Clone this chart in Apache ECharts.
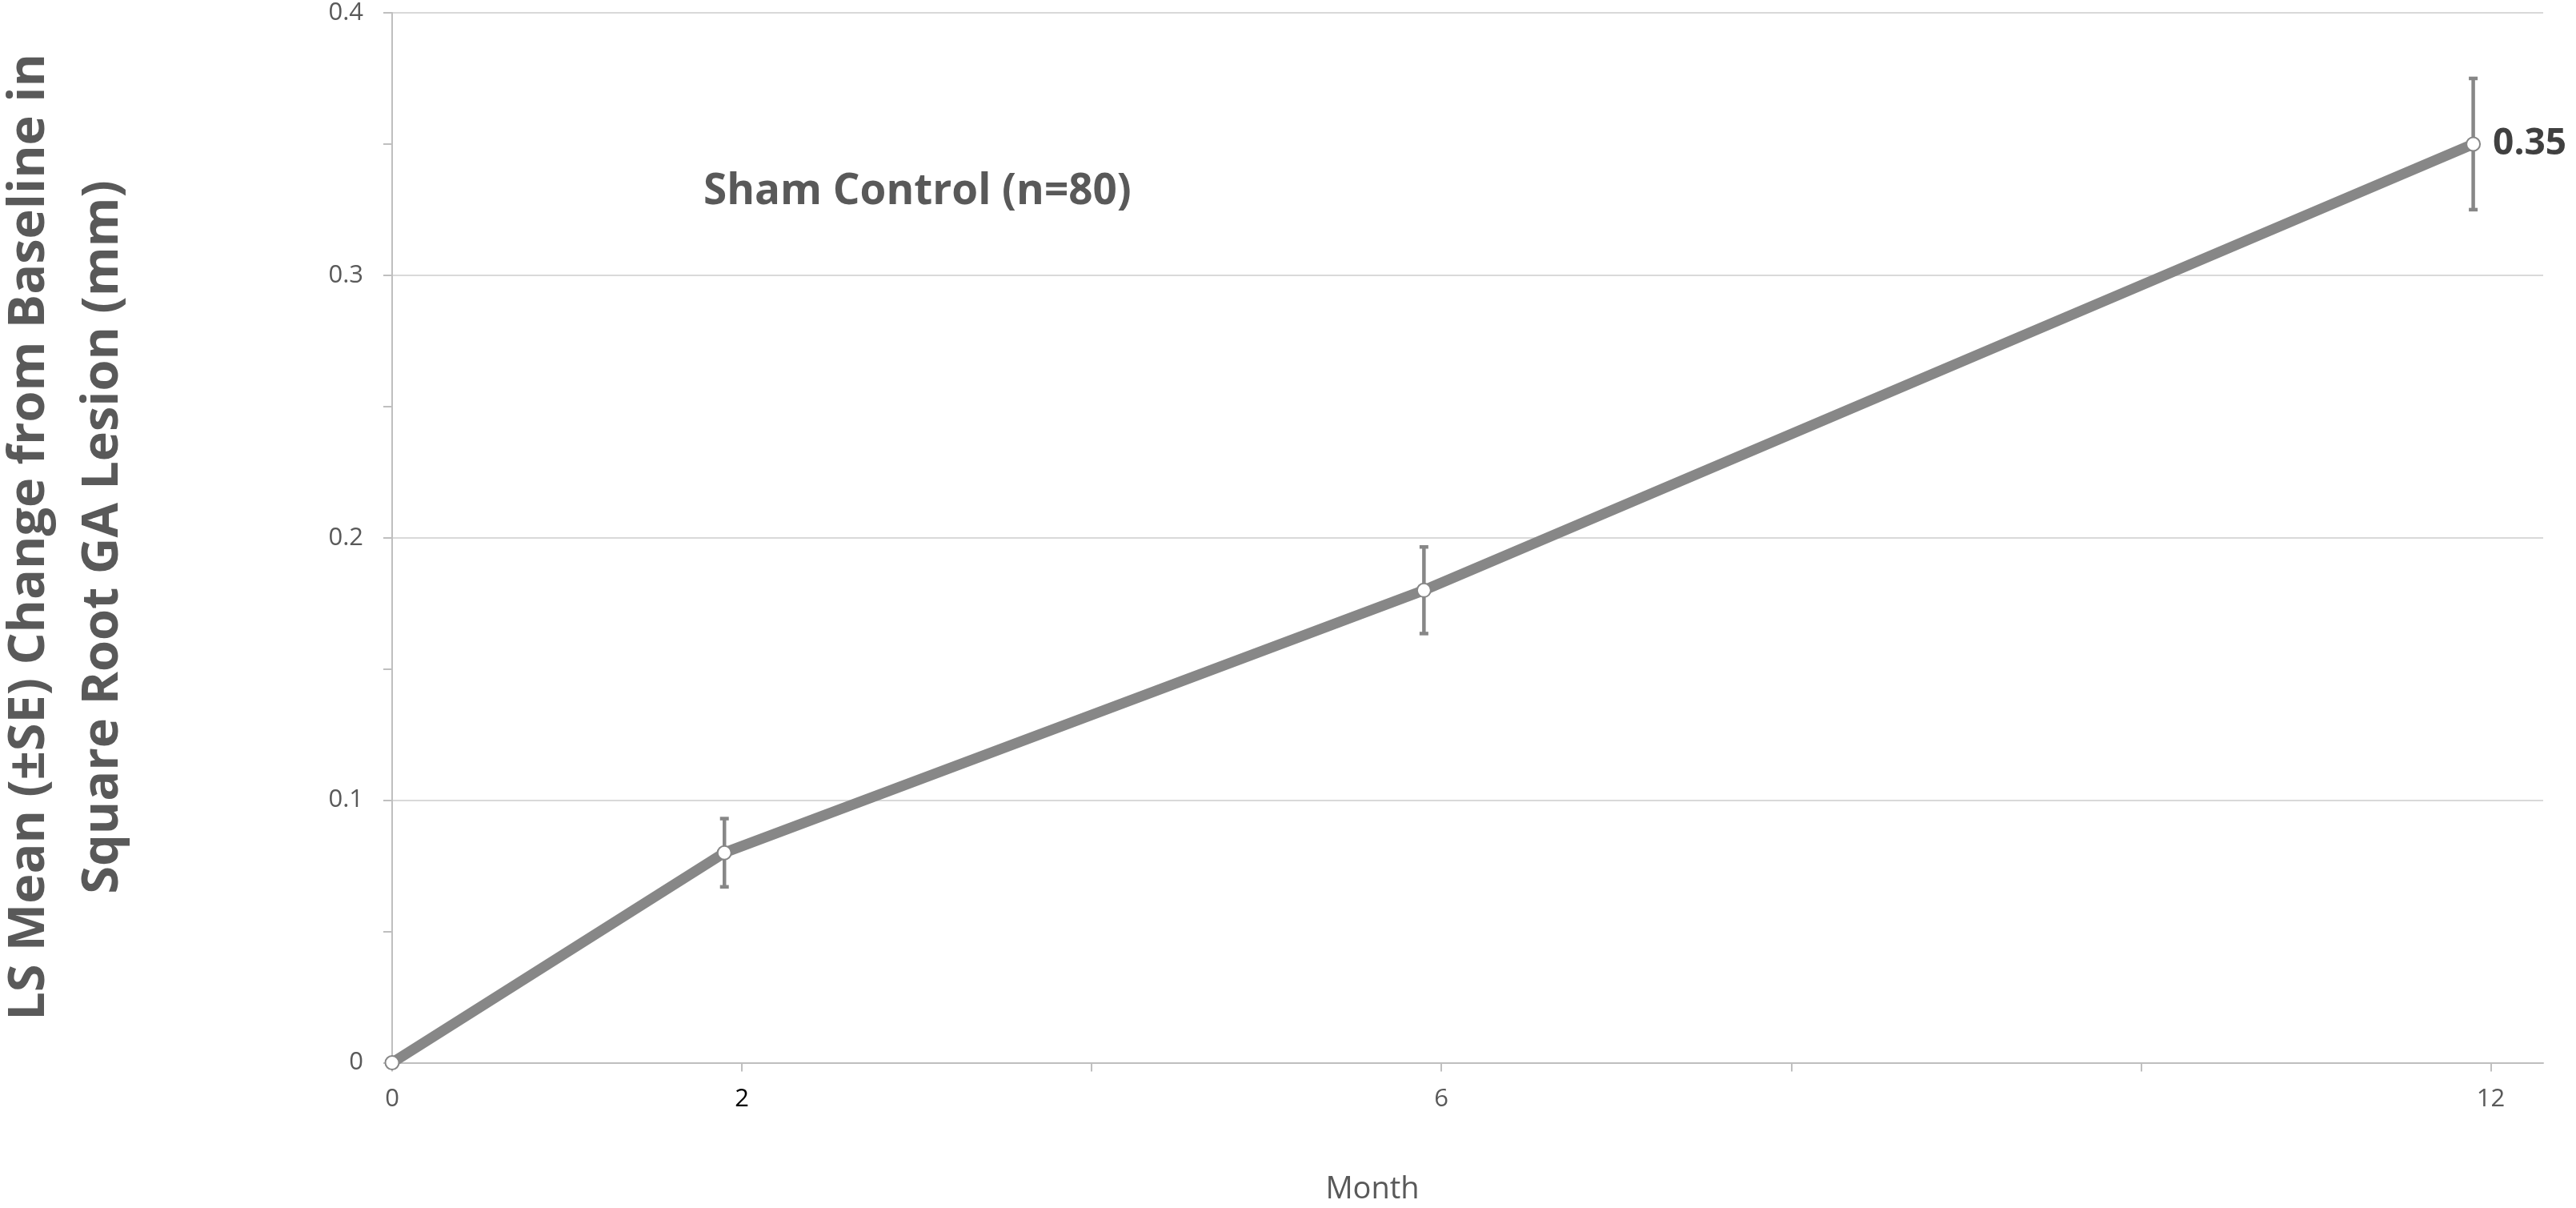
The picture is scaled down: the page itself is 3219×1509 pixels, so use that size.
<!DOCTYPE html>
<html>
<head>
<meta charset="utf-8">
<title>Sham Control – LS Mean Change from Baseline</title>
<script src="https://cdn.jsdelivr.net/npm/echarts@6/dist/echarts.min.js"></script>
<style>
  html, body { margin: 0; padding: 0; background: #ffffff; }
  #chart { width: 3219px; height: 1509px; }
</style>
</head>
<body>
<div id="chart"></div>
<script>
// Visit times (months) and least-squares mean change with standard errors
const months = [0, 1.9, 5.9, 11.9];
const lsMean = [0, 0.08, 0.18, 0.35];
const stdErr = [0, 0.013, 0.0165, 0.025];

// Axis tick values and labels
const xTickValues = [0, 2, 4, 6, 8, 10, 12];
const xLabelValues = [0, 2, 6, 12];

const groupLabel = 'Sham Control (n=80)';
const yTitle = 'LS Mean (\u00B1SE) Change from Baseline in\nSquare Root GA Lesion (mm)';
const xTitle = 'Month';

const GRAY = '#878787';
const TEXT = '#595959';

const lineData = months.map((m, i) => {
  const item = { value: [m, lsMean[i]] };
  if (i === months.length - 1) {
    item.label = {
      show: true,
      position: 'right',
      distance: 15,
      formatter: p => String(p.value[1]),
      fontFamily: 'Open Sans',
      fontWeight: 'bold',
      fontSize: 46,
      color: '#404040'
    };
  }
  return item;
});

const errData = months.map((m, i) => [m, lsMean[i] - stdErr[i], lsMean[i] + stdErr[i]]);

const chart = echarts.init(document.getElementById('chart'), null, { renderer: 'canvas' });

chart.setOption({
  animation: false,
  backgroundColor: '#ffffff',
  grid: { left: 490, right: 41, top: 16, bottom: 181.5, containLabel: false },
  xAxis: {
    type: 'value',
    min: 0,
    max: 12.3,
    interval: 2,
    axisLine: { show: true, lineStyle: { color: '#bfbfbf', width: 2 } },
    axisTick: {
      show: true,
      length: 11,
      customValues: xTickValues,
      lineStyle: { color: '#bfbfbf', width: 2 }
    },
    splitLine: { show: false },
    axisLabel: {
      customValues: xLabelValues,
      margin: 30,
      fontFamily: 'Open Sans',
      fontSize: 31,
      color: TEXT,
      formatter: v => (v === 2 ? '{dark|' + v + '}' : String(v)),
      rich: {
        dark: { fontFamily: 'Open Sans', fontSize: 31, color: '#000000' }
      }
    }
  },
  yAxis: {
    type: 'value',
    min: 0,
    max: 0.4,
    interval: 0.1,
    axisLine: { show: true, lineStyle: { color: '#bfbfbf', width: 2 } },
    axisTick: {
      show: true,
      length: 11,
      lineStyle: { color: '#bfbfbf', width: 2 }
    },
    minorTick: {
      show: true,
      splitNumber: 2,
      length: 11,
      lineStyle: { color: '#bfbfbf', width: 2 }
    },
    minorSplitLine: { show: false },
    splitLine: { show: true, lineStyle: { color: '#d9d9d9', width: 2 } },
    axisLabel: {
      margin: 36,
      fontFamily: 'Open Sans',
      fontSize: 31,
      color: TEXT,
      formatter: v => String(parseFloat(v.toFixed(2)))
    }
  },
  series: [
    {
      type: 'custom',
      name: 'SE',
      z: 1,
      data: errData,
      clip: false,
      renderItem: (params, api) => {
        const x = api.value(0);
        const lo = api.coord([x, api.value(1)]);
        const hi = api.coord([x, api.value(2)]);
        const half = 5.5;
        const style = { stroke: GRAY, lineWidth: 4.5, fill: null };
        return {
          type: 'group',
          children: [
            { type: 'line', shape: { x1: lo[0], y1: lo[1], x2: hi[0], y2: hi[1] }, style },
            { type: 'line', shape: { x1: lo[0] - half, y1: lo[1], x2: lo[0] + half, y2: lo[1] }, style },
            { type: 'line', shape: { x1: hi[0] - half, y1: hi[1], x2: hi[0] + half, y2: hi[1] }, style }
          ]
        };
      }
    },
    {
      type: 'line',
      name: groupLabel,
      z: 2,
      clip: false,
      data: lineData,
      symbol: 'circle',
      symbolSize: 17,
      lineStyle: { color: GRAY, width: 13 },
      itemStyle: { color: '#ffffff', borderColor: GRAY, borderWidth: 2 }
    }
  ],
  graphic: [
    {
      type: 'text',
      x: 83,
      y: 671,
      rotation: Math.PI / 2,
      style: {
        text: yTitle,
        fontFamily: 'Open Sans',
        fontWeight: 'bold',
        fontSize: 63,
        lineHeight: 92,
        fill: TEXT,
        align: 'center',
        verticalAlign: 'middle'
      }
    },
    {
      type: 'text',
      x: 879,
      y: 240,
      style: {
        text: groupLabel,
        fontFamily: 'Open Sans',
        fontWeight: 'bold',
        fontSize: 53,
        fill: TEXT,
        align: 'left',
        verticalAlign: 'middle'
      }
    },
    {
      type: 'text',
      x: 1715,
      y: 1486,
      style: {
        text: xTitle,
        fontFamily: 'Open Sans',
        fontSize: 38,
        fill: TEXT,
        align: 'center',
        verticalAlign: 'middle'
      }
    }
  ]
});
</script>
</body>
</html>
